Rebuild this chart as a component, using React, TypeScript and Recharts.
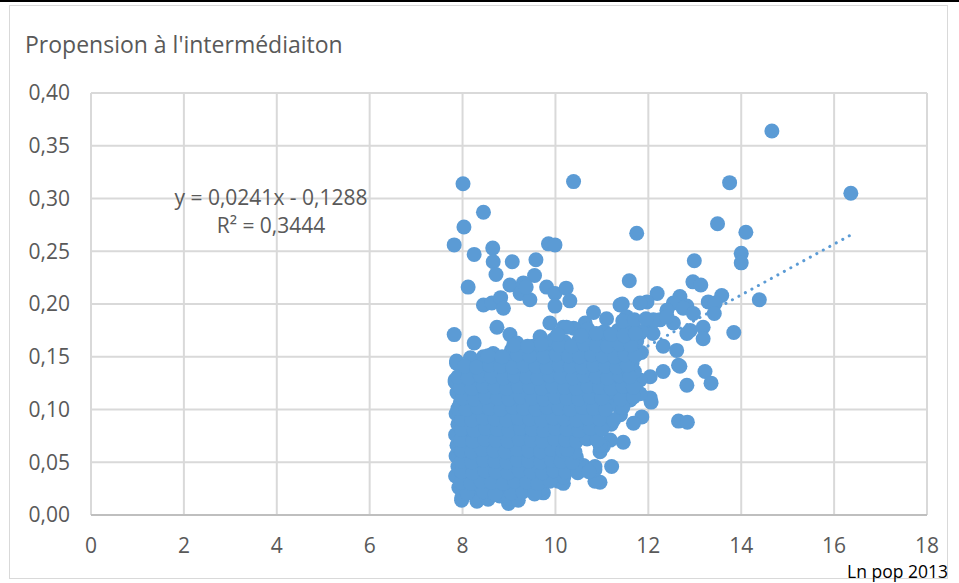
import React from 'react';
import { ScatterChart, Scatter, XAxis, YAxis, CartesianGrid } from 'recharts';

const chartTitle = "Propension à l'intermédiaiton";
const xAxisTitle = 'Ln pop 2013';
const xTicks = [0, 2, 4, 6, 8, 10, 12, 14, 16, 18];
const yTicks = [0, 0.05, 0.1, 0.15, 0.2, 0.25, 0.3, 0.35, 0.4];
const trendSlope = 0.0241;
const trendIntercept = -0.1288;
const trendR2 = 0.3444;
const trendXRange = [7.8, 16.36];

// [ln pop, propension]
const outlierPoints: [number, number][] = [
  [14.66, 0.364], [16.36, 0.305], [8.01, 0.314], [10.39, 0.316], [13.75, 0.315],
  [8.45, 0.287], [8.03, 0.273], [7.82, 0.256], [8.25, 0.247], [8.65, 0.253],
  [9.85, 0.257], [9.99, 0.256], [11.75, 0.267], [13.49, 0.276], [14.1, 0.268],
  [14.0, 0.248], [14.0, 0.239], [12.99, 0.241], [14.39, 0.204], [13.84, 0.173],
];

const upperLeftPoints: [number, number][] = [
  [8.66, 0.24], [8.72, 0.228], [9.07, 0.24], [9.58, 0.242], [9.55, 0.227],
  [8.12, 0.216], [9.02, 0.218], [9.31, 0.22], [9.24, 0.21], [9.45, 0.204],
  [9.37, 0.216], [9.81, 0.216], [9.99, 0.21], [10.23, 0.215], [10.31, 0.203],
  [9.99, 0.198], [8.45, 0.199], [8.63, 0.201], [8.82, 0.206], [8.88, 0.196],
  [9.88, 0.182], [8.74, 0.178], [7.82, 0.171], [8.25, 0.163], [10.64, 0.182],
  [10.39, 0.177], [10.17, 0.178], [10.24, 0.178], [9.02, 0.171], [9.17, 0.163],
  [9.67, 0.169], [9.52, 0.16], [7.87, 0.144], [7.84, 0.128], [8.17, 0.149],
  [8.45, 0.15], [8.66, 0.153], [10.82, 0.192], [11.39, 0.199],
];

const rightPoints: [number, number][] = [
  [11.59, 0.222], [12.96, 0.221], [13.13, 0.218], [12.19, 0.21], [13.58, 0.208],
  [13.29, 0.202], [13.44, 0.201], [13.42, 0.191], [12.68, 0.207], [12.54, 0.201],
  [12.83, 0.198], [11.97, 0.202], [11.82, 0.201], [11.44, 0.2], [12.4, 0.194],
  [12.75, 0.196], [12.97, 0.191], [12.25, 0.185], [12.54, 0.182], [12.9, 0.175],
  [13.18, 0.178], [13.18, 0.167], [12.04, 0.178], [12.1, 0.172], [11.82, 0.172],
  [12.32, 0.16], [12.61, 0.156], [12.65, 0.142], [12.32, 0.136], [12.68, 0.141],
  [13.22, 0.136], [13.35, 0.125], [12.83, 0.123], [12.04, 0.131], [11.82, 0.128],
  [12.06, 0.107], [12.04, 0.111], [12.65, 0.089], [12.84, 0.088], [11.21, 0.046],
  [10.96, 0.031], [11.86, 0.093], [11.68, 0.087], [11.46, 0.069], [11.18, 0.071],
  [11.79, 0.115], [11.61, 0.109], [11.32, 0.115], [11.03, 0.122], [11.03, 0.065],
  [11.82, 0.115], [11.53, 0.188], [11.68, 0.178], [12.11, 0.185], [12.4, 0.188],
  [12.83, 0.172], [10.06, 0.032], [10.17, 0.03], [10.85, 0.032], [10.85, 0.043],
  [10.6, 0.043], [10.35, 0.051], [10.31, 0.062], [10.96, 0.06], [10.89, 0.084],
  [11.1, 0.093], [9.74, 0.021], [8.99, 0.011], [8.31, 0.013], [7.98, 0.014],
];

const mainBlobPoints: [number, number][] = [
  [7.98, 0.016], [8.3, 0.017], [8.55, 0.015], [8.8, 0.018], [9.0, 0.016], [9.2, 0.014],
  [7.92, 0.026], [8.15, 0.024], [8.4, 0.027], [8.65, 0.025], [8.9, 0.026], [9.15, 0.024], [9.4, 0.027], [9.7, 0.025],
  [7.85, 0.037], [8.05, 0.035], [8.28, 0.034], [8.5, 0.036], [8.75, 0.035], [9.0, 0.037], [9.25, 0.034], [9.5, 0.036], [9.75, 0.035], [10.1, 0.038], [10.18, 0.036],
  [7.9, 0.046], [8.12, 0.044], [8.35, 0.045], [8.6, 0.047], [8.85, 0.045], [9.1, 0.044], [9.35, 0.046], [9.6, 0.045], [9.85, 0.047], [10.05, 0.044], [10.35, 0.045], [10.6, 0.047], [10.85, 0.046],
  [7.86, 0.056], [8.08, 0.055], [8.3, 0.054], [8.55, 0.056], [8.8, 0.055], [9.05, 0.057], [9.3, 0.054], [9.55, 0.055], [9.8, 0.056], [10.0, 0.054], [10.25, 0.056], [10.45, 0.055],
  [7.88, 0.066], [8.15, 0.064], [8.4, 0.065], [8.65, 0.067], [8.9, 0.065], [9.15, 0.064], [9.4, 0.066], [9.65, 0.065], [9.9, 0.064], [10.15, 0.066], [10.35, 0.065], [10.96, 0.066],
  [7.85, 0.076], [8.05, 0.074], [8.3, 0.075], [8.55, 0.077], [8.8, 0.075], [9.05, 0.074], [9.3, 0.076], [9.55, 0.075], [9.8, 0.074], [10.05, 0.076], [10.3, 0.075], [10.55, 0.074],
  [7.9, 0.086], [8.12, 0.084], [8.38, 0.085], [8.62, 0.087], [8.88, 0.085], [9.12, 0.084], [9.38, 0.086], [9.62, 0.085], [9.88, 0.084], [10.12, 0.086], [10.38, 0.085], [10.62, 0.084], [11.2, 0.086],
  [7.86, 0.096], [8.08, 0.094], [8.32, 0.095], [8.58, 0.097], [8.82, 0.095], [9.08, 0.094], [9.32, 0.096], [9.58, 0.095], [9.82, 0.094], [10.08, 0.096], [10.32, 0.095], [10.58, 0.094], [10.82, 0.096], [11.4, 0.095],
  [7.95, 0.106], [8.2, 0.104], [8.45, 0.105], [8.7, 0.107], [8.95, 0.105], [9.2, 0.104], [9.45, 0.106], [9.7, 0.105], [9.95, 0.104], [10.2, 0.106], [10.45, 0.105], [10.7, 0.104], [10.95, 0.106], [11.25, 0.105],
  [7.88, 0.116], [8.12, 0.114], [8.36, 0.115], [8.6, 0.117], [8.85, 0.115], [9.1, 0.114], [9.35, 0.116], [9.6, 0.115], [9.85, 0.114], [10.1, 0.116], [10.35, 0.115], [10.6, 0.114], [10.85, 0.116], [11.1, 0.115], [11.55, 0.114],
  [7.84, 0.126], [8.05, 0.124], [8.3, 0.125], [8.55, 0.127], [8.8, 0.125], [9.05, 0.124], [9.3, 0.126], [9.55, 0.125], [9.8, 0.124], [10.05, 0.126], [10.3, 0.125], [10.55, 0.124], [10.8, 0.126], [11.05, 0.125], [11.3, 0.124], [11.55, 0.126],
  [8.0, 0.136], [8.25, 0.134], [8.5, 0.135], [8.75, 0.137], [9.0, 0.135], [9.25, 0.134], [9.5, 0.136], [9.75, 0.135], [10.0, 0.134], [10.25, 0.136], [10.5, 0.135], [10.75, 0.134], [11.0, 0.136], [11.25, 0.135], [11.5, 0.134], [11.7, 0.136],
  [7.87, 0.146], [8.45, 0.144], [8.7, 0.145], [8.95, 0.147], [9.2, 0.145], [9.45, 0.144], [9.7, 0.146], [9.95, 0.145], [10.2, 0.144], [10.45, 0.146], [10.7, 0.145], [10.95, 0.144], [11.2, 0.146], [11.45, 0.145], [11.65, 0.144],
  [9.05, 0.156], [9.3, 0.154], [9.6, 0.155], [9.9, 0.157], [10.15, 0.155], [10.4, 0.154], [10.65, 0.156], [10.9, 0.155], [11.15, 0.154], [11.4, 0.156], [11.6, 0.155], [11.85, 0.154],
  [9.95, 0.166], [10.2, 0.164], [10.5, 0.165], [10.75, 0.167], [11.0, 0.165], [11.25, 0.164], [11.5, 0.166], [11.75, 0.165],
  [10.7, 0.176], [11.05, 0.174], [11.35, 0.175], [11.6, 0.177], [11.85, 0.174],
  [11.1, 0.186], [11.45, 0.184], [11.7, 0.185], [11.95, 0.186],
];

const blobFillPoints: [number, number][] = [
  [8.1, 0.021], [8.45, 0.022], [8.7, 0.02], [9.05, 0.021], [9.3, 0.022], [9.55, 0.02],
  [7.97, 0.031], [8.18, 0.03], [8.4, 0.032], [8.62, 0.031], [8.88, 0.03], [9.12, 0.032], [9.38, 0.031], [9.62, 0.03], [9.88, 0.032],
  [7.98, 0.041], [8.22, 0.04], [8.48, 0.042], [8.72, 0.041], [8.98, 0.04], [9.22, 0.042], [9.48, 0.041], [9.72, 0.04], [9.96, 0.042], [10.22, 0.041], [10.48, 0.04], [10.72, 0.041],
  [7.98, 0.051], [8.2, 0.05], [8.45, 0.052], [8.7, 0.051], [8.95, 0.05], [9.18, 0.052], [9.42, 0.051], [9.68, 0.05], [9.92, 0.052], [10.12, 0.051], [10.36, 0.05],
  [7.98, 0.061], [8.2, 0.06], [8.42, 0.062], [8.68, 0.061], [8.92, 0.06], [9.18, 0.062], [9.42, 0.061], [9.68, 0.06], [9.92, 0.062], [10.15, 0.061], [10.42, 0.06], [10.25, 0.062],
  [7.96, 0.071], [8.22, 0.07], [8.48, 0.072], [8.72, 0.071], [8.98, 0.07], [9.22, 0.072], [9.48, 0.071], [9.72, 0.07], [9.98, 0.072], [10.22, 0.071], [10.45, 0.07], [10.68, 0.072], [10.9, 0.071],
  [7.98, 0.081], [8.25, 0.08], [8.5, 0.082], [8.75, 0.081], [9.0, 0.08], [9.25, 0.082], [9.5, 0.081], [9.75, 0.08], [10.0, 0.082], [10.25, 0.081], [10.5, 0.08], [10.75, 0.082], [11.0, 0.081],
  [7.98, 0.091], [8.2, 0.09], [8.45, 0.092], [8.7, 0.091], [8.95, 0.09], [9.2, 0.092], [9.45, 0.091], [9.7, 0.09], [9.95, 0.092], [10.2, 0.091], [10.45, 0.09], [10.7, 0.092], [10.95, 0.091], [11.25, 0.09],
  [7.9, 0.101], [8.08, 0.1], [8.32, 0.102], [8.58, 0.101], [8.82, 0.1], [9.08, 0.102], [9.32, 0.101], [9.58, 0.1], [9.82, 0.102], [10.08, 0.101], [10.32, 0.1], [10.58, 0.102], [10.82, 0.101], [11.08, 0.1], [11.45, 0.102],
  [8.0, 0.111], [8.25, 0.11], [8.5, 0.112], [8.75, 0.111], [9.0, 0.11], [9.25, 0.112], [9.5, 0.111], [9.75, 0.11], [10.0, 0.112], [10.25, 0.111], [10.5, 0.11], [10.75, 0.112], [11.0, 0.111], [11.4, 0.11], [11.68, 0.112],
  [7.95, 0.121], [8.2, 0.12], [8.45, 0.122], [8.7, 0.121], [8.95, 0.12], [9.2, 0.122], [9.45, 0.121], [9.7, 0.12], [9.95, 0.122], [10.2, 0.121], [10.45, 0.12], [10.7, 0.122], [10.95, 0.121], [11.2, 0.12], [11.45, 0.122], [11.68, 0.121],
  [7.9, 0.131], [8.12, 0.13], [8.38, 0.132], [8.62, 0.131], [8.88, 0.13], [9.12, 0.132], [9.38, 0.131], [9.62, 0.13], [9.88, 0.132], [10.12, 0.131], [10.38, 0.13], [10.62, 0.132], [10.88, 0.131], [11.12, 0.13], [11.38, 0.132], [11.6, 0.131],
  [8.05, 0.141], [8.3, 0.14], [8.58, 0.142], [8.82, 0.141], [9.08, 0.14], [9.32, 0.142], [9.58, 0.141], [9.82, 0.14], [10.08, 0.142], [10.32, 0.141], [10.58, 0.14], [10.82, 0.142], [11.08, 0.141], [11.32, 0.14], [11.55, 0.142],
  [8.55, 0.151], [8.85, 0.15], [9.18, 0.152], [9.45, 0.151], [9.75, 0.15], [10.02, 0.152], [10.28, 0.151], [10.52, 0.15], [10.78, 0.152], [11.02, 0.151], [11.28, 0.15], [11.5, 0.152], [11.72, 0.151],
  [9.1, 0.161], [9.4, 0.16], [9.7, 0.162], [10.08, 0.161], [10.35, 0.16], [10.62, 0.162], [10.88, 0.161], [11.12, 0.16], [11.38, 0.162], [11.62, 0.161],
  [10.05, 0.171], [10.55, 0.17], [10.88, 0.172], [11.2, 0.171], [11.48, 0.17], [11.72, 0.172],
];

const allPoints = [
  ...outlierPoints,
  ...upperLeftPoints,
  ...rightPoints,
  ...mainBlobPoints,
  ...blobFillPoints,
].map(([x, y]) => ({ x, y }));
const trendData = trendXRange.map((x) => ({ x, y: trendSlope * x + trendIntercept }));

const fmtY = (v: number) => v.toFixed(2).replace('.', ',');
const fmtNum = (v: number, d: number) => v.toFixed(d).replace('.', ',');
const equationText = `y = ${fmtNum(trendSlope, 4)}x - ${fmtNum(-trendIntercept, 4)}`;
const r2Text = `R² = ${fmtNum(trendR2, 4)}`;

const BLUE = '#5B9BD5';
const TEXT = '#595959';
const FONT = "'Open Sans', 'Noto Sans', sans-serif";

const Dot = (props: any) => {
  const { cx, cy } = props;
  if (cx == null || cy == null) return <g />;
  return <circle cx={cx} cy={cy} r={7.5} fill={BLUE} />;
};

export default function App() {
  return (
    <div style={{ position: 'absolute', left: 0, top: 0, width: 959, height: 583, background: '#fff', fontFamily: FONT }}>
      <svg width={959} height={583} style={{ position: 'absolute', left: 0, top: 0 }}>
        <rect x={0} y={0} width={959} height={2} fill="#000" />
        <rect x={9.5} y={5.5} width={938} height={573} fill="none" stroke="#d9d9d9" strokeWidth={1} />
      </svg>
      <div style={{ position: 'absolute', left: 0, top: 0 }}>
        <ScatterChart width={959} height={583} margin={{ top: 93, right: 32, bottom: 38, left: 31 }}>
          <CartesianGrid stroke="#d9d9d9" strokeWidth={2} horizontal vertical />
          <XAxis
            type="number"
            dataKey="x"
            domain={[0, 18]}
            ticks={xTicks}
            interval={0}
            height={30}
            tickLine={false}
            tickSize={0}
            tickMargin={23}
            axisLine={{ stroke: '#bfbfbf', strokeWidth: 2 }}
            tick={{ fill: TEXT, fontSize: 21, fontFamily: FONT }}
            allowDataOverflow
          />
          <YAxis
            type="number"
            dataKey="y"
            domain={[0, 0.4]}
            ticks={yTicks}
            interval={0}
            width={60}
            tickLine={false}
            tickSize={0}
            tickMargin={21}
            axisLine={false}
            tickFormatter={fmtY}
            tick={{ fill: TEXT, fontSize: 21, fontFamily: FONT }}
            allowDataOverflow
          />
          <Scatter
            data={trendData}
            isAnimationActive={false}
            line={{ stroke: BLUE, strokeWidth: 3, strokeDasharray: '0.1 7.3', strokeLinecap: 'round' }}
            shape={() => <g />}
            legendType="none"
          />
          <Scatter data={allPoints} isAnimationActive={false} shape={Dot} />
        </ScatterChart>
      </div>
      <div style={{ position: 'absolute', left: 25, top: 29, fontSize: 23, lineHeight: '30px', color: TEXT, whiteSpace: 'nowrap' }}>
        {chartTitle}
      </div>
      <div style={{ position: 'absolute', left: 141, top: 183, width: 260, textAlign: 'center', fontSize: 21, lineHeight: '28px', color: TEXT, whiteSpace: 'nowrap' }}>
        {equationText}
      </div>
      <div style={{ position: 'absolute', left: 141, top: 211, width: 260, textAlign: 'center', fontSize: 21, lineHeight: '28px', color: TEXT, whiteSpace: 'nowrap' }}>
        {r2Text}
      </div>
      <div style={{ position: 'absolute', right: 959 - 948, top: 560, fontSize: 17.5, lineHeight: '22px', color: '#000', whiteSpace: 'nowrap' }}>
        {xAxisTitle}
      </div>
    </div>
  );
}
